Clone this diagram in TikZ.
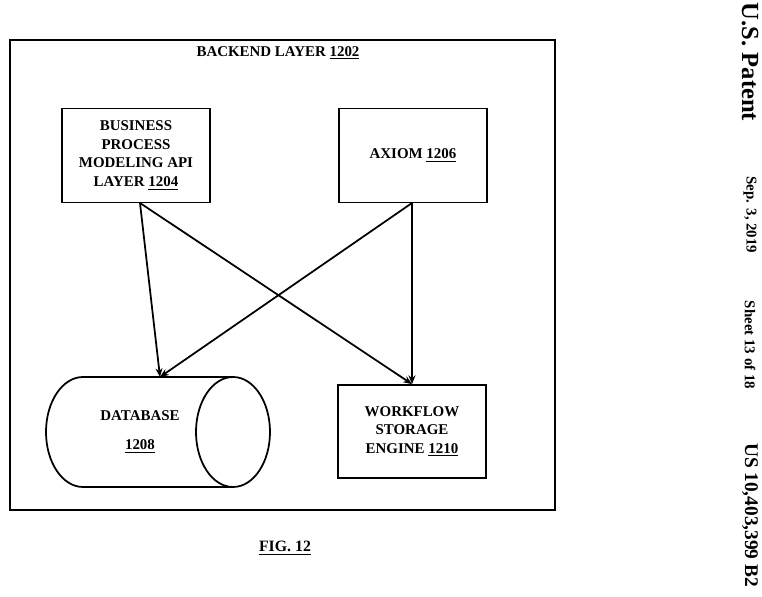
\documentclass[tikz,border=0pt]{standalone}
\usepackage{fontspec}
\setmainfont{Liberation Serif}
\usetikzlibrary{arrows.meta}
\newcommand\nr[1]{\underline{#1}}

\begin{document}
\begin{tikzpicture}[x=0.02cm,y=-0.02cm,line width=1pt,
  box/.style={draw,minimum width=2.95cm,minimum height=1.88cm,align=center},
  lbl/.style={font=\fontsize{8.5}{10.5}\selectfont\bfseries,align=center},
  flow/.style={-{Stealth[length=5pt,width=4pt]}}]

\useasboundingbox (0,0) rectangle (762,597);

% outer layer
\draw (10,40) rectangle (555,510);
\node[lbl] (title) at (278,53) {BACKEND LAYER \nr{1202}};

\node[box,lbl] (bpm) at (136,155.5) {BUSINESS\\PROCESS\\MODELING API\\LAYER \nr{1204}};
\node[box,lbl] (axiom) at (413,155.5) {AXIOM \nr{1206}};
\node[box,lbl,minimum height=1.86cm] (wf) at (412,431.5) {WORKFLOW\\STORAGE\\ENGINE \nr{1210}};

% database cylinder
\draw (83,377) -- (233,377);
\draw (83,487) -- (233,487);
\draw (233,432) ellipse [x radius=37,y radius=-55];
\draw (83,377) arc[start angle=90,end angle=270,x radius=37,y radius=-55];
\node[lbl] (db) at (140,432) {DATABASE\\[6pt]\nr{1208}};
\coordinate (dbtop) at (160,377);

\coordinate (bpmout) at (140,203);
\coordinate (axout) at (412,203);
\draw[flow] (bpmout) -- (dbtop);
\draw[flow] (bpmout) -- (wf.north);
\draw[flow] (axout) -- (dbtop);
\draw[flow] (axout) -- (wf.north);

\node[lbl,font=\fontsize{9}{11}\selectfont\bfseries] (fig) at (285,548) {\nr{FIG. 12}};

% margin header
\node[rotate=-90,font=\fontsize{14}{16}\selectfont\bfseries] (pat) at (750,62) {U.S. Patent};
\node[rotate=-90,lbl] (date) at (750,215) {Sep. 3, 2019};
\node[rotate=-90,lbl] (sheet) at (750,345) {Sheet 13 of 18};
\node[rotate=-90,font=\fontsize{11}{13}\selectfont\bfseries] (num) at (750,515) {US 10,403,399 B2};
\end{tikzpicture}
\end{document}
